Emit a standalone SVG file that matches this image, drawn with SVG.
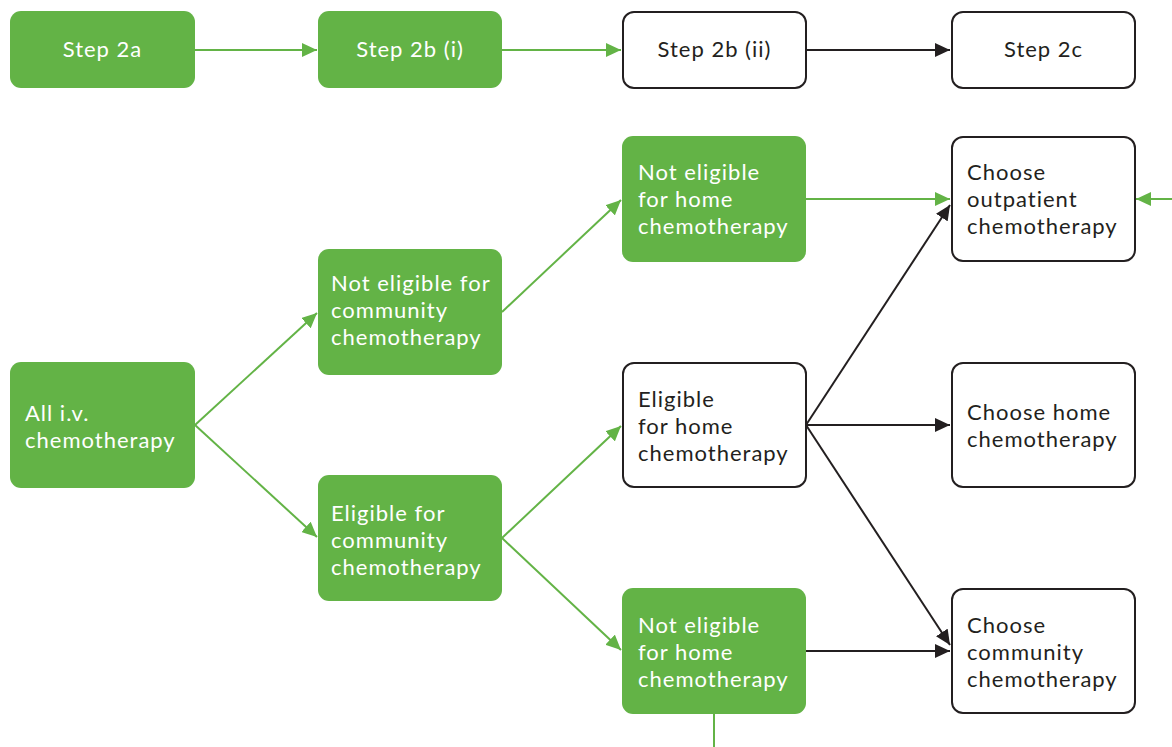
<svg xmlns="http://www.w3.org/2000/svg" width="1172" height="747" viewBox="0 0 1172 747">
<style>
.g rect{fill:#63b346;stroke:none}
.w rect{fill:#fff;stroke:#231f20;stroke-width:2}
text{font-family:Lato,"Open Sans","Liberation Sans",sans-serif;font-size:22px;letter-spacing:1px}
.g text{fill:#fff}
.w text{fill:#231f20}
.c{text-anchor:middle}
.lg{stroke:#63b346;stroke-width:2;fill:none}
.lb{stroke:#231f20;stroke-width:2;fill:none}
</style>
<defs>
<marker id="ag" viewBox="0 0 15 14" refX="15" refY="7" markerWidth="15" markerHeight="14" markerUnits="userSpaceOnUse" orient="auto"><path d="M0,0L15,7L0,14z" fill="#63b346"/></marker>
<marker id="ab" viewBox="0 0 15 14" refX="15" refY="7" markerWidth="15" markerHeight="14" markerUnits="userSpaceOnUse" orient="auto"><path d="M0,0L15,7L0,14z" fill="#231f20"/></marker>
</defs>
<g id="connectors">
<line class="lg" x1="195" y1="50" x2="317" y2="50" marker-end="url(#ag)"/>
<line class="lg" x1="502" y1="50" x2="621" y2="50" marker-end="url(#ag)"/>
<line class="lb" x1="806" y1="50" x2="950" y2="50" marker-end="url(#ab)"/>
<line class="lg" x1="195" y1="425" x2="317" y2="313" marker-end="url(#ag)"/>
<line class="lg" x1="195" y1="425" x2="317" y2="537" marker-end="url(#ag)"/>
<line class="lg" x1="502" y1="312" x2="621" y2="200" marker-end="url(#ag)"/>
<line class="lg" x1="502" y1="538" x2="621" y2="426" marker-end="url(#ag)"/>
<line class="lg" x1="502" y1="538" x2="621" y2="650" marker-end="url(#ag)"/>
<line class="lg" x1="806" y1="199" x2="950" y2="199" marker-end="url(#ag)"/>
<line class="lg" x1="1172" y1="199" x2="1136" y2="199" marker-end="url(#ag)"/>
<line class="lb" x1="806" y1="425" x2="950" y2="205" marker-end="url(#ab)"/>
<line class="lb" x1="806" y1="425" x2="950" y2="425" marker-end="url(#ab)"/>
<line class="lb" x1="806" y1="425" x2="950" y2="645" marker-end="url(#ab)"/>
<line class="lb" x1="806" y1="651" x2="950" y2="651" marker-end="url(#ab)"/>
<line class="lg" x1="714" y1="714" x2="714" y2="747"/>
</g>
<g id="step2a" class="g"><rect x="10" y="11" width="185" height="77" rx="11"/><text class="c" x="102.5" y="57">Step 2a</text></g>
<g id="step2bi" class="g"><rect x="318" y="11" width="184" height="77" rx="11"/><text class="c" x="410" y="57">Step 2b (i)</text></g>
<g id="step2bii" class="w"><rect x="623" y="12" width="183" height="76" rx="11"/><text class="c" x="714.5" y="57">Step 2b (ii)</text></g>
<g id="step2c" class="w"><rect x="952" y="12" width="183" height="76" rx="11"/><text class="c" x="1043.5" y="57">Step 2c</text></g>
<g id="all-iv" class="g"><rect x="10" y="362" width="185" height="126" rx="11"/><text x="25" y="421"><tspan x="25">All i.v.</tspan><tspan x="25" dy="27">chemotherapy</tspan></text></g>
<g id="not-eligible-community" class="g"><rect x="318" y="249" width="184" height="126" rx="11"/><text y="291"><tspan x="331">Not eligible for</tspan><tspan x="331" dy="27">community</tspan><tspan x="331" dy="27">chemotherapy</tspan></text></g>
<g id="eligible-community" class="g"><rect x="318" y="475" width="184" height="126" rx="11"/><text y="521"><tspan x="331">Eligible for</tspan><tspan x="331" dy="27">community</tspan><tspan x="331" dy="27">chemotherapy</tspan></text></g>
<g id="not-eligible-home-top" class="g"><rect x="622" y="136" width="184" height="126" rx="11"/><text y="180"><tspan x="638">Not eligible</tspan><tspan x="638" dy="27">for home</tspan><tspan x="638" dy="27">chemotherapy</tspan></text></g>
<g id="eligible-home" class="w"><rect x="623" y="363" width="183" height="124" rx="11"/><text y="407"><tspan x="638">Eligible</tspan><tspan x="638" dy="27">for home</tspan><tspan x="638" dy="27">chemotherapy</tspan></text></g>
<g id="not-eligible-home-bottom" class="g"><rect x="622" y="588" width="184" height="126" rx="11"/><text y="633"><tspan x="638">Not eligible</tspan><tspan x="638" dy="27">for home</tspan><tspan x="638" dy="27">chemotherapy</tspan></text></g>
<g id="choose-outpatient" class="w"><rect x="952" y="137" width="183" height="124" rx="11"/><text y="180"><tspan x="967">Choose</tspan><tspan x="967" dy="27">outpatient</tspan><tspan x="967" dy="27">chemotherapy</tspan></text></g>
<g id="choose-home" class="w"><rect x="952" y="363" width="183" height="124" rx="11"/><text y="420"><tspan x="967">Choose home</tspan><tspan x="967" dy="27">chemotherapy</tspan></text></g>
<g id="choose-community" class="w"><rect x="952" y="589" width="183" height="124" rx="11"/><text y="633"><tspan x="967">Choose</tspan><tspan x="967" dy="27">community</tspan><tspan x="967" dy="27">chemotherapy</tspan></text></g>
</svg>
